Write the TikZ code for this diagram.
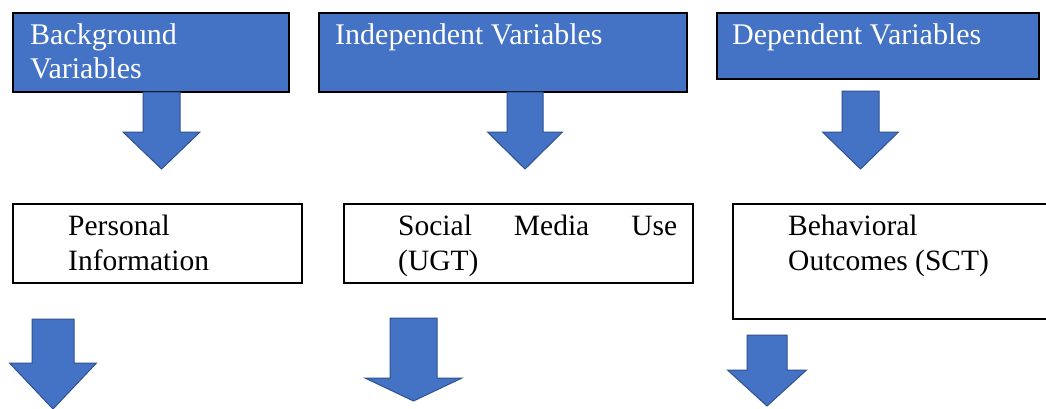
\documentclass[tikz,border=0pt]{standalone}
\usepackage{fontspec}
\setmainfont{Liberation Serif}
\definecolor{boxblue}{HTML}{4472C4}
\definecolor{arrowedge}{HTML}{2F528F}
\tikzset{
  headbox/.style={draw=black, line width=1.6pt, fill=boxblue},
  itembox/.style={draw=black, line width=1.6pt, fill=white},
  whitetxt/.style={inner sep=0pt, anchor=base west, text=white, font=\fontsize{30}{34}\selectfont},
  blacktxt/.style={inner sep=0pt, anchor=base west, text=black, font=\fontsize{29.5}{34}\selectfont},
  blockarrow/.style={fill=boxblue, draw=arrowedge, line width=1pt, line join=miter}
}
% #1 centre x, #2 shaft half width, #3 top, #4 head y, #5 head half width, #6 tip y
\newcommand{\bigdownarrow}[6]{%
  \draw[blockarrow] (#1-#2,-#3) -- (#1+#2,-#3) -- (#1+#2,-#4) -- (#1+#5,-#4)
     -- (#1,-#6) -- (#1-#5,-#4) -- (#1-#2,-#4) -- cycle;}
\begin{document}
\begin{tikzpicture}[x=1pt,y=1pt]
\useasboundingbox (0,0) rectangle (1046,-408);
\clip (0,0) rectangle (1046,-408);
\fill[white] (0,0) rectangle (1046,-408);
% top boxes
\draw[headbox] (13,-13) rectangle (289,-92);
\draw[headbox] (319,-13) rectangle (687,-92);
\draw[headbox] (717,-13) rectangle (1039,-79);
\node[whitetxt] (t1a) at (30,-44) {Background};
\node[whitetxt] (t1b) at (30,-78) {Variables};
\node[whitetxt] (t2a) at (335,-44) {Independent Variables};
\node[whitetxt] (t3a) at (732,-44) {Dependent Variables};
% top arrows
\bigdownarrow{161.5}{18.5}{92}{132}{38.5}{169}
\bigdownarrow{525}{18}{92}{132}{37.5}{169}
\bigdownarrow{860.5}{18.5}{91}{132}{38}{169}
% middle boxes
\draw[itembox] (13,-204) rectangle (302,-283);
\draw[itembox] (344,-204) rectangle (693,-283);
\draw[itembox] (733,-204) rectangle (1060,-319);
\node[blacktxt] (m1a) at (68,-235) {Personal};
\node[blacktxt] (m1b) at (68,-270) {Information};
\node[blacktxt] (m2a) at (398,-235) {\makebox[279pt][s]{Social\hfill Media\hfill Use}};
\node[blacktxt] (m2b) at (398,-270) {(UGT)};
\node[blacktxt] (m3a) at (788,-235) {Behavioral};
\node[blacktxt] (m3b) at (788,-270) {Outcomes (SCT)};
% bottom arrows
\bigdownarrow{53}{21}{319}{363}{43.5}{409}
\bigdownarrow{413.5}{23.5}{318}{378}{48.5}{401}
\bigdownarrow{767}{20}{335}{370}{39.5}{406}
\end{tikzpicture}
\end{document}
